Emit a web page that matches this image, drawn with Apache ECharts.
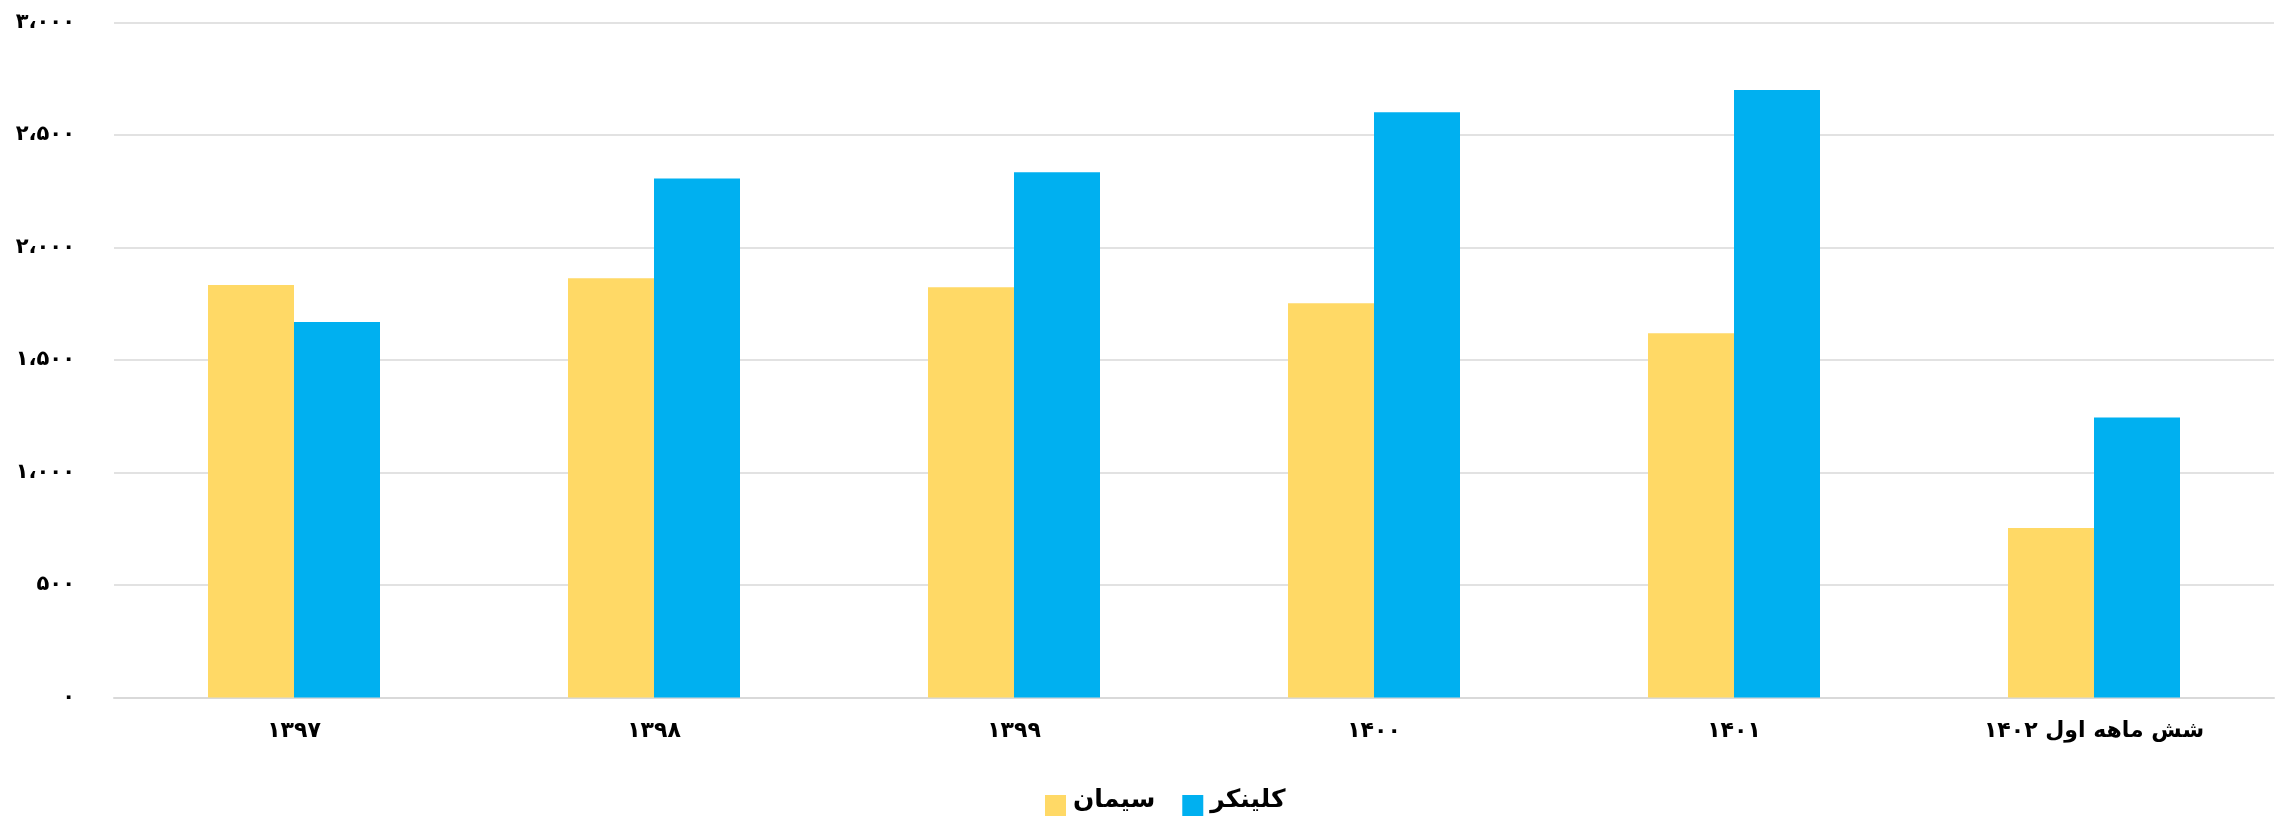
<!DOCTYPE html>
<html>
<head>
<meta charset="utf-8">
<script src="https://cdn.jsdelivr.net/npm/echarts@6/dist/echarts.min.js"></script>
<style>
html,body{margin:0;padding:0;background:#fff;}
#chart{width:2282px;height:820px;}
</style>
</head>
<body>
<div id="chart"></div>
<script>
var categories = ['۱۳۹۷', '۱۳۹۸', '۱۳۹۹', '۱۴۰۰', '۱۴۰۱', 'شش ماهه اول ۱۴۰۲'];
var cementValues = [1833, 1863, 1823, 1752, 1619, 753];
var clinkerValues = [1669, 2307, 2334, 2601, 2700, 1244];
var yTickLabels = ['۰', '۵۰۰', '۱،۰۰۰', '۱،۵۰۰', '۲،۰۰۰', '۲،۵۰۰', '۳،۰۰۰'];
var seriesNames = ['سیمان', 'کلینکر'];

var font = '"DejaVu Sans", "Noto Sans", sans-serif';
var chart = echarts.init(document.getElementById('chart'));
chart.setOption({
  animation: false,
  backgroundColor: '#ffffff',
  grid: {left: 114, right: 8, top: 22.5, bottom: 122.5, containLabel: false},
  legend: {
    left: 1040, top: 783,
    itemWidth: 21, itemHeight: 21, itemGap: 27,
    icon: 'rect',
    formatter: '{t|{name}}',
    textStyle: {
      rich: {t: {fontFamily: font, fontWeight: 'bold', fontSize: 25, color: '#000', padding: [0, 0, 10, 2]}}
    },
    data: seriesNames
  },
  xAxis: {
    type: 'category',
    data: categories,
    axisLine: {lineStyle: {color: '#d9d9d9', width: 2}},
    axisTick: {show: false},
    axisLabel: {fontFamily: font, fontWeight: 'bold', fontSize: 22, color: '#000', margin: 23}
  },
  yAxis: {
    type: 'value',
    min: 0, max: 3000, interval: 500,
    axisLine: {show: false},
    axisTick: {show: false},
    splitLine: {lineStyle: {color: '#d9d9d9', width: 1.5}},
    axisLabel: {
      fontFamily: font, fontWeight: 'bold', fontSize: 21, color: '#000', margin: 39,
      formatter: function (v) { return yTickLabels[Math.round(v / 500)]; }
    }
  },
  series: [
    {name: seriesNames[0], type: 'bar', data: cementValues, barWidth: 86, barGap: '0%', itemStyle: {color: '#FFD966'}},
    {name: seriesNames[1], type: 'bar', data: clinkerValues, barWidth: 86, barGap: '0%', itemStyle: {color: '#00B0F0'}}
  ]
});
</script>
</body>
</html>
